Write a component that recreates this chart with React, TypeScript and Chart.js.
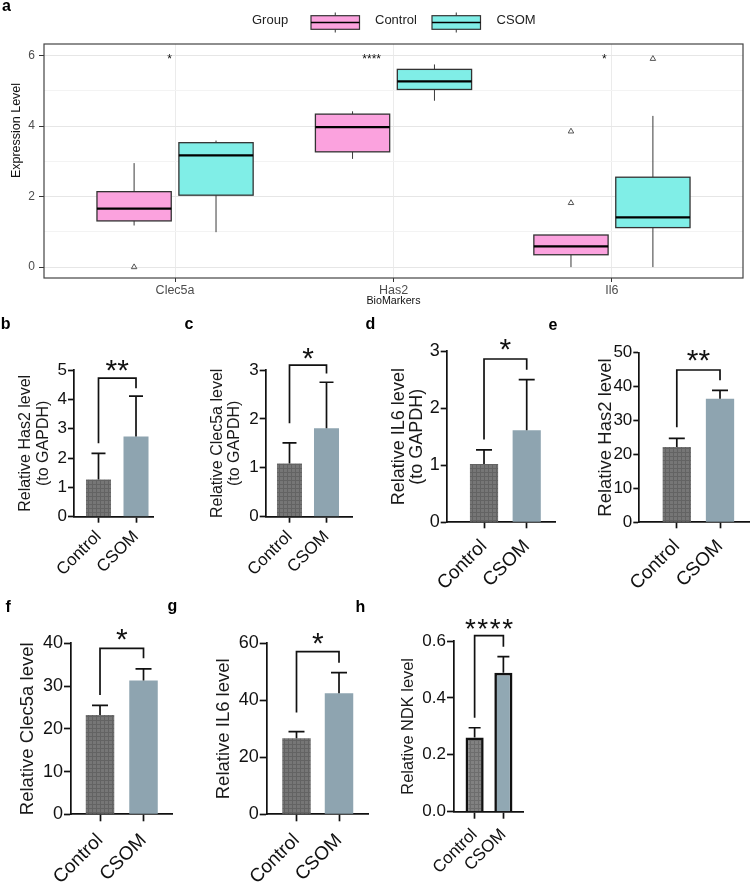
import React, { useEffect, useRef } from 'react';
import { Chart, registerables } from 'chart.js';

Chart.register(...registerables);

const FONT = '"Liberation Sans", Arial, Helvetica, sans-serif';

// ---------------- Panel a : box plot ----------------
const markers = ['Clec5a', 'Has2', 'Il6'];
const legendTitle = 'Group';
const groupLabels = ['Control', 'CSOM'];
const controlLow = [1.18, 3.07, 0.0];
const controlQ1 = [1.31, 3.27, 0.35];
const controlMedian = [1.66, 3.97, 0.59];
const controlQ3 = [2.14, 4.34, 0.91];
const controlHigh = [2.95, 4.42, 0.91];
const controlOutliers = [[0.0], [], [1.82, 3.85]];
const csomLow = [0.99, 4.72, 0.0];
const csomQ1 = [2.04, 5.04, 1.12];
const csomMedian = [3.17, 5.27, 1.41];
const csomQ3 = [3.53, 5.61, 2.55];
const csomHigh = [3.59, 5.75, 4.29];
const csomOutliers = [[], [], [5.91]];
const markerSignif = ['*', '****', '*'];
const signifLevel = 5.97;
const expressionTicks = [0, 1, 2, 3, 4, 5, 6];

// ---------------- Panels b-h : bar charts ----------------
const barGroups = ['Control', 'CSOM'];
const has2GapdhMean = [1.27, 2.73];
const has2GapdhSD = [0.89, 1.38];
const has2GapdhBracket = [4.72, 2.5, 4.38];
const has2GapdhTicks = [0, 1, 2, 3, 4, 5];
const clec5aGapdhMean = [1.09, 1.81];
const clec5aGapdhSD = [0.42, 0.94];
const clec5aGapdhBracket = [3.1, 1.91, 2.93];
const clec5aGapdhTicks = [0, 1, 2, 3];
const il6GapdhMean = [1.02, 1.61];
const il6GapdhSD = [0.25, 0.89];
const il6GapdhBracket = [2.86, 1.45, 2.67];
const il6GapdhTicks = [0, 1, 2, 3];
const has2Mean = [22.2, 36.4];
const has2SD = [2.55, 2.5];
const has2Bracket = [44.9, 28.0, 41.9];
const has2Ticks = [0, 10, 20, 30, 40, 50];
const clec5aMean = [23.2, 31.3];
const clec5aSD = [2.3, 2.7];
const clec5aBracket = [38.8, 27.9, 36.5];
const clec5aTicks = [0, 10, 20, 30, 40];
const il6Mean = [26.7, 42.5];
const il6SD = [2.3, 7.2];
const il6Bracket = [57.1, 35.7, 53.2];
const il6Ticks = [0, 20, 40, 60];
const ndkMean = [0.261, 0.488];
const ndkSD = [0.034, 0.057];
const ndkBracket = [0.619, 0.33, 0.58];
const ndkTicks = [0, 0.2, 0.4, 0.6];

const PINK = '#fba2de';
const CYAN = '#80eee7';

function strokeLine(ctx: CanvasRenderingContext2D, x0: number, y0: number, x1: number, y1: number) {
  ctx.beginPath();
  ctx.moveTo(x0, y0);
  ctx.lineTo(x1, y1);
  ctx.stroke();
}

function BoxPanel() {
  const ref = useRef<HTMLCanvasElement>(null);
  useEffect(() => {
    const canvas = ref.current as HTMLCanvasElement;
    const DODGE = 0.1875;
    const BOXW = 0.34;
    const groupsStats = [
      { low: controlLow, q1: controlQ1, med: controlMedian, q3: controlQ3, high: controlHigh, fill: PINK, off: -DODGE },
      { low: csomLow, q1: csomQ1, med: csomMedian, q3: csomQ3, high: csomHigh, fill: CYAN, off: DODGE },
    ];
    const starOffsets = [-0.025, -0.1, -0.035];
    const outlierData = (outs: number[][], off: number) =>
      outs.flatMap((arr, i) => arr.map((v) => ({ x: i + 1 + off, y: v })));

    const boxPlugin = {
      id: 'boxes',
      beforeDatasetsDraw(chart: any) {
        const { ctx, scales } = chart;
        const x = scales.x;
        const y = scales.y;
        ctx.save();
        groupsStats.forEach((g) => {
          markers.forEach((_, i) => {
            const cx = x.getPixelForValue(i + 1 + g.off);
            const hw = x.getPixelForValue(i + 1 + g.off + BOXW / 2) - cx;
            const yLow = y.getPixelForValue(g.low[i]);
            const yQ1 = y.getPixelForValue(g.q1[i]);
            const yMed = y.getPixelForValue(g.med[i]);
            const yQ3 = y.getPixelForValue(g.q3[i]);
            const yHigh = y.getPixelForValue(g.high[i]);
            ctx.strokeStyle = '#3a3a3a';
            ctx.lineWidth = 1;
            strokeLine(ctx, cx, yLow, cx, yQ1);
            strokeLine(ctx, cx, yQ3, cx, yHigh);
            ctx.fillStyle = g.fill;
            ctx.fillRect(cx - hw, yQ3, 2 * hw, yQ1 - yQ3);
            ctx.strokeStyle = '#333';
            ctx.lineWidth = 1.3;
            ctx.strokeRect(cx - hw, yQ3, 2 * hw, yQ1 - yQ3);
            ctx.strokeStyle = '#000';
            ctx.lineWidth = 2.2;
            strokeLine(ctx, cx - hw, yMed, cx + hw, yMed);
          });
        });
        ctx.restore();
      },
      afterDraw(chart: any) {
        const { ctx, chartArea, scales } = chart;
        const x = scales.x;
        const y = scales.y;
        ctx.save();
        ctx.strokeStyle = '#444';
        ctx.lineWidth = 1.2;
        ctx.strokeRect(chartArea.left, chartArea.top, chartArea.right - chartArea.left, chartArea.bottom - chartArea.top);
        ctx.fillStyle = '#111';
        ctx.font = `12px ${FONT}`;
        ctx.textAlign = 'center';
        markerSignif.forEach((s, i) => {
          const m = ctx.measureText(s);
          const cy = y.getPixelForValue(signifLevel);
          const base = cy + (m.actualBoundingBoxAscent - m.actualBoundingBoxDescent) / 2;
          ctx.fillText(s, x.getPixelForValue(i + 1 + starOffsets[i]), base);
        });
        ctx.save();
        ctx.translate(16.4, 130.5);
        ctx.rotate(-Math.PI / 2);
        ctx.font = `12.5px ${FONT}`;
        ctx.fillStyle = '#111';
        ctx.textAlign = 'center';
        ctx.textBaseline = 'middle';
        ctx.fillText('Expression Level', 0, 0);
        ctx.restore();
        ctx.font = `13px ${FONT}`;
        ctx.fillStyle = '#222';
        ctx.textAlign = 'left';
        ctx.textBaseline = 'middle';
        ctx.fillText(legendTitle, 252, 20.7);
        const keys = [
          { x0: 311, x1: 359.5, fill: PINK, tx: 375 },
          { x0: 432, x1: 480.5, fill: CYAN, tx: 496.6 },
        ];
        keys.forEach((k, i) => {
          const yTop = 15.7;
          const yBot = 29.3;
          const cx = (k.x0 + k.x1) / 2;
          const cy = (yTop + yBot) / 2;
          ctx.strokeStyle = '#333';
          ctx.lineWidth = 1;
          strokeLine(ctx, cx, yTop - 3.2, cx, yTop);
          strokeLine(ctx, cx, yBot, cx, yBot + 3.2);
          ctx.fillStyle = k.fill;
          ctx.fillRect(k.x0, yTop, k.x1 - k.x0, yBot - yTop);
          ctx.lineWidth = 1.2;
          ctx.strokeRect(k.x0, yTop, k.x1 - k.x0, yBot - yTop);
          ctx.strokeStyle = '#000';
          ctx.lineWidth = 1.6;
          strokeLine(ctx, k.x0, cy, k.x1, cy);
          ctx.fillStyle = '#222';
          ctx.fillText(groupLabels[i], k.tx, 20.7);
        });
        ctx.restore();
      },
    };

    const chart = new Chart(canvas, {
      type: 'scatter',
      data: {
        datasets: [
          {
            label: 'Control outliers',
            data: outlierData(controlOutliers, -DODGE),
            pointStyle: 'triangle',
            pointRadius: 3.2,
            borderColor: '#555',
            backgroundColor: 'rgba(0,0,0,0)',
            borderWidth: 1,
          },
          {
            label: 'CSOM outliers',
            data: outlierData(csomOutliers, DODGE),
            pointStyle: 'triangle',
            pointRadius: 3.2,
            borderColor: '#555',
            backgroundColor: 'rgba(0,0,0,0)',
            borderWidth: 1,
          },
        ],
      },
      options: {
        animation: false,
        responsive: false,
        maintainAspectRatio: false,
        layout: { padding: { top: 44, right: 12, left: 0, bottom: 0 } },
        plugins: { legend: { display: false }, tooltip: { enabled: false } },
        scales: {
          x: {
            type: 'linear',
            min: 0.4,
            max: 3.6,
            afterBuildTicks: (s: any) => {
              s.ticks = markers.map((_, i) => ({ value: i + 1 }));
            },
            afterFit: (s: any) => {
              s.height = 32;
              s.paddingLeft = 0;
              s.paddingRight = 0;
            },
            ticks: {
              callback: (v: any) => markers[Number(v) - 1] ?? '',
              font: { family: FONT, size: 12.5 },
              color: '#4d4d4d',
              padding: 1,
              maxRotation: 0,
              autoSkip: false,
            },
            grid: { color: '#ebebeb', tickColor: '#333', tickLength: 4, lineWidth: 1 },
            border: { display: false },
            title: {
              display: true,
              text: 'BioMarkers',
              font: { family: FONT, size: 10.7 },
              color: '#111',
              padding: { top: 0, bottom: 3 },
            },
          },
          y: {
            type: 'linear',
            min: -0.31,
            max: 6.33,
            afterBuildTicks: (s: any) => {
              s.ticks = expressionTicks.map((v) => ({ value: v }));
            },
            afterFit: (s: any) => {
              s.width = 44;
              s.paddingTop = 0;
              s.paddingBottom = 0;
            },
            ticks: {
              callback: (v: any) => (Number(v) % 2 === 0 ? String(v) : ''),
              font: { family: FONT, size: 12 },
              color: '#4d4d4d',
              padding: 4,
              autoSkip: false,
            },
            grid: {
              color: (c: any) => (c.tick && c.tick.value % 2 === 0 ? '#e6e6e6' : '#f3f3f3'),
              tickColor: (c: any) => (c.tick && c.tick.value % 2 === 0 ? '#333' : 'rgba(0,0,0,0)'),
              tickLength: 5,
              lineWidth: 1,
            },
            border: { display: false },
          },
        },
      } as any,
      plugins: [boxPlugin as any],
    });
    return () => chart.destroy();
  }, []);
  return (
    <canvas
      ref={ref}
      width={755}
      height={310}
      style={{ position: 'absolute', left: 0, top: 0, width: 755, height: 310 }}
    />
  );
}

type BarCfg = {
  id: string;
  canvasLeft: number;
  canvasTop: number;
  canvasRight: number;
  canvasBottom: number;
  area: { l: number; r: number; t: number; b: number };
  xMin: number;
  xMax: number;
  yTicks: number[];
  decimals: number;
  means: number[];
  sds: number[];
  bracket: number[];
  label: string;
  title: string | string[];
  titleSize: number;
  titleLH: number;
  titleCenter: number;
  tickSize: number;
  xSize: number;
  xPad: number;
  tickLen: number;
  barPct: number;
  cap: number;
  starSize: number;
  starGap: number;
  starSpacing: number;
  outlined: boolean;
  ctrlBase: string;
  ctrlLine: string;
  csomColor: string;
};

function BarPanel({ cfg }: { cfg: BarCfg }) {
  const ref = useRef<HTMLCanvasElement>(null);
  const W = cfg.canvasRight - cfg.canvasLeft;
  const H = cfg.canvasBottom - cfg.canvasTop;
  useEffect(() => {
    const canvas = ref.current as HTMLCanvasElement;
    const c2d = canvas.getContext('2d') as CanvasRenderingContext2D;
    const off = document.createElement('canvas');
    off.width = 4;
    off.height = 4;
    const o = off.getContext('2d') as CanvasRenderingContext2D;
    o.fillStyle = cfg.ctrlBase;
    o.fillRect(0, 0, 4, 4);
    o.fillStyle = cfg.ctrlLine;
    o.fillRect(0, 0, 4, 1);
    o.fillRect(0, 0, 1, 4);
    const hatch = c2d.createPattern(off, 'repeat');

    const titleLineH = cfg.titleSize * cfg.titleLH;
    const titlePad = cfg.titleCenter - cfg.canvasLeft - titleLineH / 2;

    const annot = {
      id: 'annot',
      afterDatasetsDraw(chart: any) {
        const { ctx, scales } = chart;
        const x = scales.x;
        const y = scales.y;
        ctx.save();
        ctx.strokeStyle = '#111';
        ctx.lineWidth = 1.7;
        cfg.means.forEach((m, i) => {
          const px = x.getPixelForValue(i);
          const y0 = y.getPixelForValue(m);
          const y1 = y.getPixelForValue(m + cfg.sds[i]);
          ctx.beginPath();
          ctx.moveTo(px, y0);
          ctx.lineTo(px, y1);
          ctx.moveTo(px - cfg.cap, y1);
          ctx.lineTo(px + cfg.cap, y1);
          ctx.stroke();
        });
        const [top, lLeg, rLeg] = cfg.bracket;
        const x0 = x.getPixelForValue(0);
        const x1 = x.getPixelForValue(1);
        const yt = y.getPixelForValue(top);
        ctx.beginPath();
        ctx.moveTo(x0, y.getPixelForValue(lLeg));
        ctx.lineTo(x0, yt);
        ctx.lineTo(x1, yt);
        ctx.lineTo(x1, y.getPixelForValue(rLeg));
        ctx.stroke();
        ctx.font = `${cfg.starSize}px ${FONT}`;
        (ctx as any).letterSpacing = `${cfg.starSpacing}px`;
        ctx.textAlign = 'center';
        ctx.fillStyle = '#111';
        const mt = ctx.measureText(cfg.label);
        const cy = yt - cfg.starGap;
        const base = cy + (mt.actualBoundingBoxAscent - mt.actualBoundingBoxDescent) / 2;
        ctx.fillText(cfg.label, (x0 + x1) / 2 + cfg.starSpacing / 2, base);
        ctx.restore();
      },
    };

    const chart = new Chart(canvas, {
      type: 'bar',
      data: {
        datasets: [
          {
            data: cfg.means.map((v, i) => ({ x: i, y: v })),
            backgroundColor: [hatch as any, cfg.csomColor],
            borderColor: '#111',
            borderWidth: cfg.outlined ? 2.6 : 0,
            borderSkipped: 'bottom',
            barPercentage: cfg.barPct,
            categoryPercentage: 1,
          },
        ],
      },
      options: {
        animation: false,
        responsive: false,
        maintainAspectRatio: false,
        layout: {
          padding: { top: cfg.area.t - cfg.canvasTop, right: cfg.canvasRight - cfg.area.r, left: 0, bottom: 0 },
        },
        plugins: { legend: { display: false }, tooltip: { enabled: false } },
        scales: {
          x: {
            type: 'linear',
            min: cfg.xMin,
            max: cfg.xMax,
            offset: false,
            afterBuildTicks: (s: any) => {
              s.ticks = barGroups.map((_, i) => ({ value: i }));
            },
            afterFit: (s: any) => {
              s.height = cfg.canvasBottom - cfg.area.b;
              s.paddingLeft = 0;
              s.paddingRight = 0;
            },
            ticks: {
              callback: (v: any) => barGroups[Number(v)] ?? '',
              minRotation: 45,
              maxRotation: 45,
              autoSkip: false,
              font: { family: FONT, size: cfg.xSize },
              color: '#111',
              padding: cfg.xPad,
            },
            grid: {
              display: true,
              drawOnChartArea: false,
              drawTicks: true,
              offset: false,
              tickLength: cfg.tickLen,
              tickWidth: 1.7,
              tickColor: '#111',
            },
            border: { display: true, color: '#111', width: 1.7 },
          },
          y: {
            type: 'linear',
            min: 0,
            max: cfg.yTicks[cfg.yTicks.length - 1],
            afterBuildTicks: (s: any) => {
              s.ticks = cfg.yTicks.map((v) => ({ value: v }));
            },
            afterFit: (s: any) => {
              s.width = cfg.area.l - cfg.canvasLeft;
              s.paddingTop = 0;
              s.paddingBottom = 0;
            },
            ticks: {
              callback: (v: any) => Number(v).toFixed(cfg.decimals),
              font: { family: FONT, size: cfg.tickSize },
              color: '#111',
              padding: 1,
              autoSkip: false,
            },
            grid: {
              display: true,
              drawOnChartArea: false,
              drawTicks: true,
              tickLength: cfg.tickLen,
              tickWidth: 1.7,
              tickColor: '#111',
            },
            border: { display: true, color: '#111', width: 1.7 },
            title: {
              display: true,
              text: cfg.title,
              font: { family: FONT, size: cfg.titleSize, lineHeight: cfg.titleLH },
              color: '#1a1a1a',
              padding: { top: titlePad, bottom: 0 },
            },
          },
        },
      } as any,
      plugins: [annot as any],
    });
    return () => chart.destroy();
  }, []);
  return (
    <canvas
      ref={ref}
      width={W}
      height={H}
      style={{ position: 'absolute', left: cfg.canvasLeft, top: cfg.canvasTop, width: W, height: H }}
    />
  );
}

const common = {
  decimals: 0,
  tickLen: 6,
  cap: 7,
  starSize: 30,
  starSpacing: 0,
  outlined: false,
  xPad: 4,
  ctrlBase: '#767676',
  ctrlLine: '#636363',
  csomColor: '#8ea4b0',
};

const panels: BarCfg[] = [
  {
    ...common,
    id: 'b', canvasLeft: 0, canvasTop: 320, canvasRight: 160, canvasBottom: 590,
    area: { l: 74, r: 153, t: 370, b: 516.7 }, xMin: -0.653, xMax: 1.453,
    yTicks: has2GapdhTicks, means: has2GapdhMean, sds: has2GapdhSD, bracket: has2GapdhBracket, label: '**',
    title: ['Relative Has2 level', '(to GAPDH)'], titleSize: 16, titleLH: 1.1, titleCenter: 25.5,
    tickSize: 17, xSize: 17, barPct: 0.667, starGap: 12.3,
  },
  {
    ...common,
    id: 'c', canvasLeft: 195, canvasTop: 320, canvasRight: 358, canvasBottom: 590,
    area: { l: 265.7, r: 352, t: 370, b: 516.7 }, xMin: -0.643, xMax: 1.689,
    yTicks: clec5aGapdhTicks, means: clec5aGapdhMean, sds: clec5aGapdhSD, bracket: clec5aGapdhBracket, label: '*',
    title: ['Relative Clec5a level', '(to GAPDH)'], titleSize: 16, titleLH: 1.05, titleCenter: 217.7,
    tickSize: 17, xSize: 17, barPct: 0.676, starGap: 12,
  },
  {
    ...common,
    id: 'd', canvasLeft: 380, canvasTop: 320, canvasRight: 561, canvasBottom: 594,
    area: { l: 446.7, r: 555.7, t: 351, b: 522.3 }, xMin: -0.874, xMax: 1.679,
    yTicks: il6GapdhTicks, means: il6GapdhMean, sds: il6GapdhSD, bracket: il6GapdhBracket, label: '*',
    title: ['Relative IL6 level', '(to GAPDH)'], titleSize: 18, titleLH: 1.0, titleCenter: 399,
    tickSize: 18, xSize: 19, xPad: 7, barPct: 0.66, starGap: 14, cap: 8,
  },
  {
    ...common,
    id: 'e', canvasLeft: 585, canvasTop: 320, canvasRight: 755, canvasBottom: 594,
    area: { l: 639.3, r: 749, t: 352.7, b: 522.3 }, xMin: -0.868, xMax: 1.671,
    yTicks: has2Ticks, means: has2Mean, sds: has2SD, bracket: has2Bracket, label: '**',
    title: 'Relative Has2 level', titleSize: 18.5, titleLH: 1.2, titleCenter: 606,
    tickSize: 17, xSize: 19, xPad: 7, barPct: 0.655, starGap: 14.3, cap: 8,
  },
  {
    ...common,
    id: 'f', canvasLeft: 0, canvasTop: 612, canvasRight: 180, canvasBottom: 884,
    area: { l: 71, r: 172.7, t: 643.3, b: 814.3 }, xMin: -0.667, xMax: 1.671,
    yTicks: clec5aTicks, means: clec5aMean, sds: clec5aSD, bracket: clec5aBracket, label: '*',
    title: 'Relative Clec5a level', titleSize: 18.5, titleLH: 1.2, titleCenter: 27.5,
    tickSize: 18, xSize: 19, xPad: 8, barPct: 0.655, starGap: 14.3, tickLen: 7, cap: 8,
  },
  {
    ...common,
    id: 'g', canvasLeft: 200, canvasTop: 612, canvasRight: 375, canvasBottom: 884,
    area: { l: 266.7, r: 368, t: 643.3, b: 814.3 }, xMin: -0.701, xMax: 1.682,
    yTicks: il6Ticks, means: il6Mean, sds: il6SD, bracket: il6Bracket, label: '*',
    title: 'Relative IL6 level', titleSize: 18.5, titleLH: 1.2, titleCenter: 224,
    tickSize: 18, xSize: 19, xPad: 8, barPct: 0.67, starGap: 13.4, tickLen: 7, cap: 8,
  },
  {
    ...common,
    id: 'h', canvasLeft: 390, canvasTop: 612, canvasRight: 530, canvasBottom: 884,
    area: { l: 454, r: 523, t: 641, b: 811.7 }, xMin: -0.717, xMax: 1.682,
    yTicks: ndkTicks, decimals: 1, means: ndkMean, sds: ndkSD, bracket: ndkBracket, label: '****',
    title: 'Relative NDK level', titleSize: 16.4, titleLH: 1.2, titleCenter: 408.8,
    tickSize: 17, xSize: 17, xPad: 6, barPct: 0.63, starGap: 12, starSize: 28, starSpacing: 1.5, tickLen: 7,
    outlined: true, cap: 6, ctrlBase: '#818181', ctrlLine: '#6d6d6d', csomColor: '#91a8b3',
  },
];

const letters = [
  { t: 'a', x: 2, y: -1.8 },
  { t: 'b', x: 0.7, y: 315.5 },
  { t: 'c', x: 184.5, y: 315.5 },
  { t: 'd', x: 365.5, y: 315.5 },
  { t: 'e', x: 548.5, y: 316.5 },
  { t: 'f', x: 5.5, y: 598.5 },
  { t: 'g', x: 167.5, y: 597.5 },
  { t: 'h', x: 355.5, y: 598.5 },
];

export default function App() {
  return (
    <div
      style={{
        position: 'absolute',
        left: 0,
        top: 0,
        width: 755,
        height: 886,
        overflow: 'hidden',
        background: '#ffffff',
        fontFamily: FONT,
      }}
    >
      <BoxPanel />
      {panels.map((p) => (
        <BarPanel key={p.id} cfg={p} />
      ))}
      {letters.map((l) => (
        <div
          key={l.t}
          style={{
            position: 'absolute',
            left: l.x,
            top: l.y,
            font: `bold 16px ${FONT}`,
            lineHeight: '16px',
            color: '#000',
          }}
        >
          {l.t}
        </div>
      ))}
    </div>
  );
}
